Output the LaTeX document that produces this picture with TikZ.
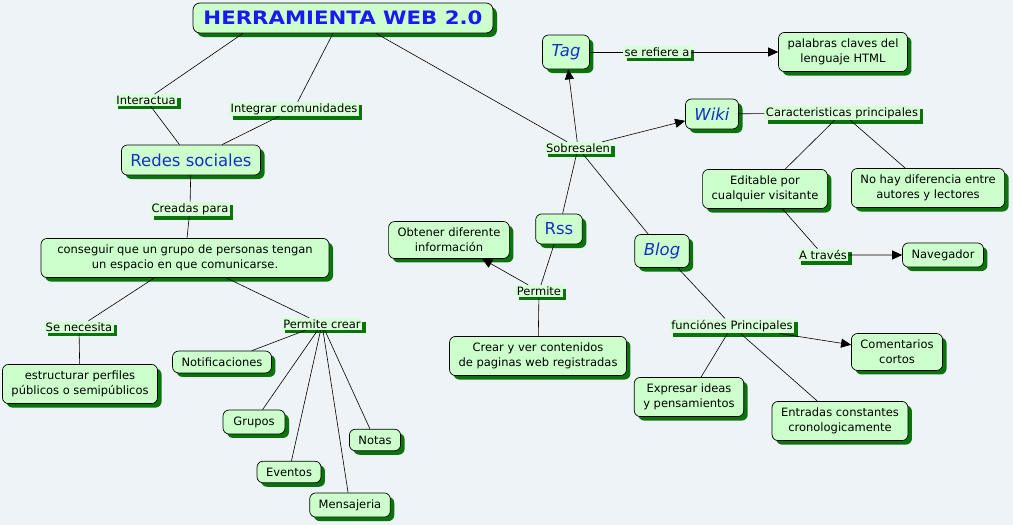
\documentclass[tikz,border=0pt]{standalone}
\usepackage{fontspec}
\setmainfont{DejaVu Sans}
\usetikzlibrary{shadows,arrows.meta}
\definecolor{fondo}{HTML}{EDF3F6}
\definecolor{verdeclaro}{HTML}{CCFFCC}
\definecolor{verdeenlace}{HTML}{D8FFD8}
\definecolor{verdesombra}{HTML}{0B730B}
\definecolor{azul}{HTML}{1530C8}
\definecolor{azultitulo}{HTML}{1A1AF0}
\begin{document}
\begin{tikzpicture}[x=1pt,y=-1pt,
  caja/.style={draw, line width=0.7pt, rounded corners=6pt, fill=verdeclaro, align=center,
    inner xsep=9pt, inner ysep=6.5pt, font=\fontsize{11.5}{15}\selectfont,
    general shadow={fill=verdesombra, shadow xshift=4pt, shadow yshift=-4pt}},
  clave/.style={caja, font=\fontsize{16.5}{18}\selectfont, text=azul, minimum height=30pt, inner xsep=9pt},
  titulobox/.style={caja, rounded corners=7pt, minimum width=300pt, minimum height=30pt,
    inner xsep=4pt, font=\bfseries\fontsize{18.5}{20}\selectfont, text=azultitulo},
  enlace/.style={fill=verdeenlace, inner xsep=1.5pt, inner ysep=1.5pt, font=\fontsize{11.5}{14}\selectfont,
    general shadow={fill=verdesombra, shadow xshift=3.5pt, shadow yshift=-3.5pt}},
  linea/.style={line width=0.6pt},
  flecha/.style={linea, -{Triangle[length=10pt,width=9pt]}}]
\path[use as bounding box, fill=fondo] (0,0) rectangle (1013,525);

\node[titulobox] at (343,18) (titulo) {\scalebox{1.15}[1]{HERRAMIENTA WEB 2.0}};

\node[clave] at (191,160) (redes) {Redes sociales};
\node[enlace] at (146,100) (interactua) {Interactua};
\node[enlace] at (294,109) (integrar) {Integrar comunidades};
\node[enlace] at (190,209) (creadas) {Creadas para};
\node[caja, minimum width=288pt] at (185,258) (conseguir) {conseguir que un grupo de personas tengan\\un espacio en que comunicarse.};
\node[enlace] at (79,327) (senecesita) {Se necesita};
\node[caja] at (80,384) (estructurar) {estructurar perfiles\\públicos o semipúblicos};
\node[enlace] at (322,324) (permitecrear) {Permite crear};
\node[caja] at (222,362) (notificaciones) {Notificaciones};
\node[caja, minimum width=62pt] at (254,422) (grupos) {Grupos};
\node[caja, minimum width=62pt] at (289,472) (eventos) {Eventos};
\node[caja, minimum width=50pt] at (375,440) (notas) {Notas};
\node[caja, minimum width=80pt] at (350,505) (mensajeria) {Mensajeria};

\node[enlace] at (578,148) (sobresalen) {Sobresalen};
\node[clave, minimum height=34pt] at (566,52) (tag) {\itshape Tag};
\node[enlace] at (657,52) (serefiere) {se refiere a};
\node[caja] at (843,52) (palabras) {palabras claves del\\lenguaje HTML};
\node[clave] at (712,114) (wiki) {\itshape Wiki};
\node[enlace] at (842,113) (caract) {Caracteristicas principales};
\node[caja] at (765,189) (editable) {Editable por\\cualquier visitante};
\node[caja] at (928,188) (nohay) {No hay diferencia entre\\autores y lectores};
\node[enlace] at (823,255) (atraves) {A través\ };
\node[caja, minimum width=80pt] at (943,255) (navegador) {Navegador};

\node[clave] at (559,229) (rss) {Rss};
\node[caja] at (449,240) (obtener) {Obtener diferente\\información};
\node[enlace] at (539,291) (permite) {Permite};
\node[caja] at (538,356) (crear) {Crear y ver contenidos\\de paginas web registradas};

\node[clave, minimum height=33pt] at (662,251) (blog) {\itshape Blog};
\node[enlace] at (732,326) (funciones) {funciónes Principales};
\node[caja] at (897,352) (comentarios) {Comentarios\\cortos};
\node[caja] at (689,397) (expresar) {Expresar ideas\\y pensamientos};
\node[caja] at (840,421) (entradas) {Entradas constantes\\cronologicamente};

\draw[linea] ([xshift=-100pt]titulo.south) -- (interactua) -- (redes);
\draw[linea] ([xshift=-10pt]titulo.south) -- (integrar) -- (redes);
\draw[linea] ([xshift=33pt]titulo.south) -- (sobresalen);
\draw[linea] (redes) -- (creadas) -- (conseguir);
\draw[linea] (conseguir) -- (senecesita) -- (estructurar);
\draw[linea] (conseguir) -- (permitecrear);
\foreach \hijo in {notificaciones,grupos,eventos,mensajeria,notas}
  \draw[linea] (permitecrear) -- (\hijo);

\draw[flecha] (sobresalen) -- (tag);
\draw[flecha] (sobresalen) -- (wiki);
\draw[linea] (sobresalen) -- (rss);
\draw[linea] (sobresalen) -- (blog);
\draw[flecha] (tag) -- (serefiere) -- (palabras);
\draw[linea] (wiki) -- (caract);
\draw[linea] (caract) -- (editable);
\draw[linea] (caract) -- (nohay);
\draw[flecha] (editable) -- (atraves) -- (navegador);

\draw[linea] (rss) -- (permite) -- (crear);
\draw[flecha] (permite) -- (obtener);
\draw[linea] (blog) -- (funciones);
\draw[flecha] (funciones) -- (comentarios);
\draw[linea] (funciones) -- (expresar);
\draw[linea] (funciones) -- (entradas);
\end{tikzpicture}
\end{document}
